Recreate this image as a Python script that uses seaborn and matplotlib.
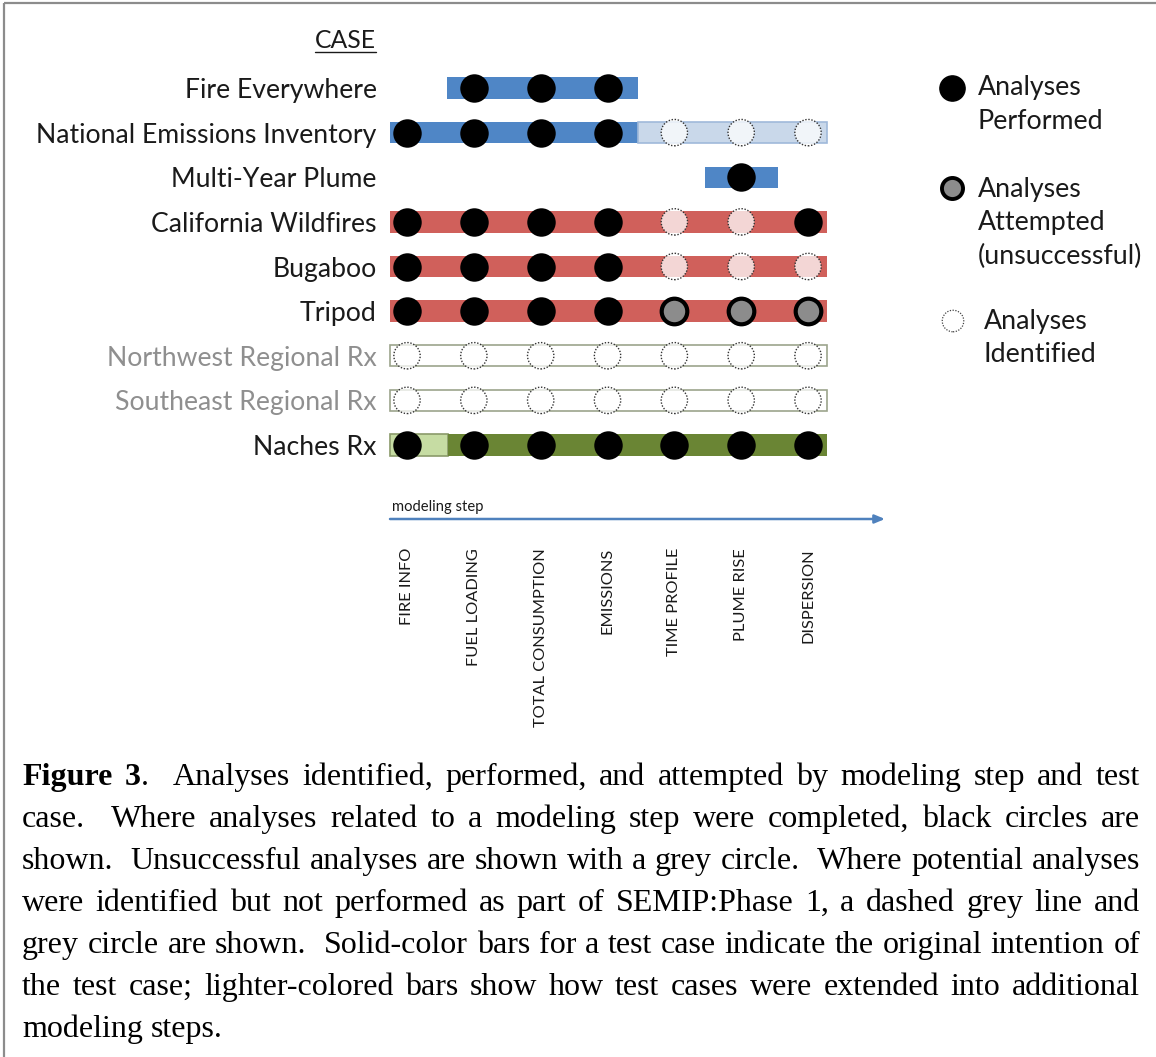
import numpy as np
import pandas as pd
import matplotlib
matplotlib.use("Agg")
import matplotlib.pyplot as plt
import seaborn as sns

# ---------------- data ----------------
cases = ["Fire Everywhere", "National Emissions Inventory", "Multi-Year Plume",
         "California Wildfires", "Bugaboo", "Tripod", "Northwest Regional Rx",
         "Southeast Regional Rx", "Naches Rx"]
case_muted = [False, False, False, False, False, False, True, True, False]
steps = ["FIRE INFO", "FUEL LOADING", "TOTAL CONSUMPTION", "EMISSIONS",
         "TIME PROFILE", "PLUME RISE", "DISPERSION"]

# status per case per step: P performed, A attempted, I identified, "" none
status = [
    ["", "P", "P", "P", "", "", ""],
    ["P", "P", "P", "P", "I", "I", "I"],
    ["", "", "", "", "", "P", ""],
    ["P", "P", "P", "P", "I", "I", "P"],
    ["P", "P", "P", "P", "I", "I", "I"],
    ["P", "P", "P", "P", "A", "A", "A"],
    ["I", "I", "I", "I", "I", "I", "I"],
    ["I", "I", "I", "I", "I", "I", "I"],
    ["P", "P", "P", "P", "P", "P", "P"],
]

# bar segments (in modeling-step units)
bar_case = [0, 1, 1, 2, 3, 4, 5, 6, 7, 8, 8]
bar_start = [0.6, -0.26, 3.45, 4.46, -0.26, -0.26, -0.26, -0.26, -0.26, -0.26, 0.61]
bar_end = [3.45, 3.45, 6.28, 5.55, 6.28, 6.28, 6.28, 6.28, 6.28, 0.61, 6.28]
bar_kind = ["blue", "blue", "lightblue", "blue", "red", "red", "red",
            "empty", "empty", "lightgreen", "green"]

legend_labels = [["Analyses", "Performed"],
                 ["Analyses", "Attempted", "(unsuccessful)"],
                 ["Analyses", "Identified"]]

caption_lines = [
    "Figure 3.  Analyses identified, performed, and attempted by modeling step and test",
    "case.  Where analyses related to a modeling step were completed, black circles are",
    "shown.  Unsuccessful analyses are shown with a grey circle.  Where potential analyses",
    "were identified but not performed as part of SEMIP:Phase 1, a dashed grey line and",
    "grey circle are shown.  Solid-color bars for a test case indicate the original intention of",
    "the test case; lighter-colored bars show how test cases were extended into additional",
    "modeling steps.",
]

# ---------------- styles ----------------
bar_fill = {"blue": "#4f86c6", "lightblue": "#c9d8ea", "red": "#d0605b",
            "empty": "#ffffff", "lightgreen": "#c6dca3", "green": "#6a8534"}
bar_edge = {"blue": "none", "lightblue": "#9fb9da", "red": "none",
            "empty": "#9ca48c", "lightgreen": "#8a9a6a", "green": "none"}

sns.set_style("white")
plt.rcParams["font.family"] = ["Lato", "DejaVu Sans"]

W, H = 1156, 1057
fig = plt.figure(figsize=(W / 100, H / 100), dpi=100)

# main axes: step 0 -> x=407px, step 6 -> 808px; row 0 -> y=88px, row 8 -> 445px
pxs = (808 - 407) / 6.0
pyr = (445 - 88) / 8.0
x0 = 407 - 0.5 * pxs
x1 = 808 + 0.5 * pxs
y0 = 88 - 0.5 * pyr
y1 = 445 + 0.5 * pyr
ax = fig.add_axes([x0 / W, 1 - y1 / H, (x1 - x0) / W, (y1 - y0) / H])

# bars
for c, s, e, k in zip(bar_case, bar_start, bar_end, bar_kind):
    ax.barh(c, e - s, left=s, height=0.48, color=bar_fill[k],
            edgecolor=bar_edge[k], linewidth=1.2, zorder=1)

# points
rows = []
for ci, case in enumerate(cases):
    for si, st in enumerate(steps):
        if status[ci][si]:
            rows.append({"case": ci, "step": si, "status": status[ci][si]})
df = pd.DataFrame(rows)

sns.scatterplot(data=df[df.status == "P"], x="step", y="case", ax=ax, s=420,
                color="black", edgecolor="black", linewidth=0, legend=False, zorder=3)
sns.scatterplot(data=df[df.status == "A"], x="step", y="case", ax=ax, s=340,
                color="#8c8c8c", edgecolor="black", linewidth=3.0, legend=False, zorder=3)
sns.scatterplot(data=df[df.status == "I"], x="step", y="case", ax=ax, s=360,
                color=(1, 1, 1, 0.75), edgecolor="#333333", linewidth=1.0,
                linestyle=(0, (1, 1.2)), legend=False, zorder=3)

ax.set_xlim(-0.5, 6.5)
ax.set_ylim(8.5, -0.5)
ax.set_xlabel("")
ax.set_ylabel("")
ax.set_yticks(range(len(cases)))
ax.set_yticklabels(cases, fontsize=19.2)
for lab, muted in zip(ax.get_yticklabels(), case_muted):
    lab.set_color("#8f8f8f" if muted else "#1a1a1a")
ax.set_xticks(range(len(steps)))
ax.set_xticklabels(steps, rotation=90, fontsize=11.8, color="#1a1a1a")
ax.tick_params(axis="y", length=0, pad=-2.2)
ax.tick_params(axis="x", length=0, pad=(548 - y1) * 0.72)
for sp in ax.spines.values():
    sp.set_visible(False)
ax.set_facecolor("none")

# overlay axes in pixel coordinates for annotations
ov = fig.add_axes([0, 0, 1, 1], zorder=-1)
ov.set_xlim(0, W)
ov.set_ylim(H, 0)
ov.axis("off")
ov.set_facecolor("none")

# border
ov.plot([4, W], [3, 3], color="#8c8c8c", lw=1.6, solid_capstyle="butt")
ov.plot([4, 4], [3, H], color="#8c8c8c", lw=1.6, solid_capstyle="butt")

renderer = fig.canvas.get_renderer()

# CASE heading
t = ov.text(376, 40, "CASE", ha="right", va="center", fontsize=17.8, color="#1a1a1a")
bb = t.get_window_extent(renderer=renderer)
ov.plot([bb.x0, bb.x1], [52, 52], color="#1a1a1a", lw=1.0)

# modeling step arrow
ov.annotate("", xy=(885, 519), xytext=(390, 519),
            arrowprops=dict(arrowstyle="-|>,head_length=0.6,head_width=0.25",
                            color="#4f81bd", lw=1.8, shrinkA=0, shrinkB=0))
ov.text(392, 511, "modeling step", ha="left", va="baseline", fontsize=10.6, color="#1a1a1a")

# legend
ov.scatter([952], [88], s=330, color="black", zorder=3)
ov.scatter([952], [188], s=230, color="#8c8c8c", edgecolor="black", linewidth=2.8, zorder=3)
ov.scatter([953], [321], s=240, color="white", edgecolor="#444444", linewidth=0.9,
           linestyle=(0, (1, 1.2)), zorder=3)
leg_x = [978, 978, 984]
leg_y = [88, 189, 321]
for lx, ly, lines in zip(leg_x, leg_y, legend_labels):
    for i, line in enumerate(lines):
        ov.text(lx, ly + i * 33.5, line, ha="left", va="center", fontsize=19.3, color="#1a1a1a")

# caption, justified
cap_font = "Liberation Serif"
cap_size = 23
left, right = 22, 1140
base0, lsp = 785, 42


def word_segments(word, li):
    if li == 0 and word == "Figure":
        return [("Figure", "bold")]
    if li == 0 and word == "3.":
        return [("3", "bold"), (".", "normal")]
    return [(word, "normal")]


def seg_width(txt, wt):
    tt = ov.text(0, 0, txt, fontsize=cap_size, family=cap_font, weight=wt)
    w = tt.get_window_extent(renderer=renderer).width
    tt.remove()
    return w


space_w = seg_width("a a", "normal") - 2 * seg_width("a", "normal")
for li, line in enumerate(caption_lines):
    words = line.split()
    segs = [word_segments(w, li) for w in words]
    widths = [sum(seg_width(t_, w_) for t_, w_ in sg) for sg in segs]
    gaps = [2.0 if w.endswith(".") else 1.0 for w in words[:-1]]
    last = li == len(caption_lines) - 1
    if last:
        unit = space_w
    else:
        unit = (right - left - sum(widths)) / sum(gaps)
    x = left
    y = base0 + li * lsp
    for wi, sg in enumerate(segs):
        xx = x
        for txt, wt in sg:
            ov.text(xx, y, txt, ha="left", va="baseline", fontsize=cap_size,
                    family=cap_font, weight=wt, color="black")
            xx += seg_width(txt, wt)
        x += widths[wi]
        if wi < len(gaps):
            x += gaps[wi] * unit

fig.savefig("out.png", dpi=100, facecolor="white")
